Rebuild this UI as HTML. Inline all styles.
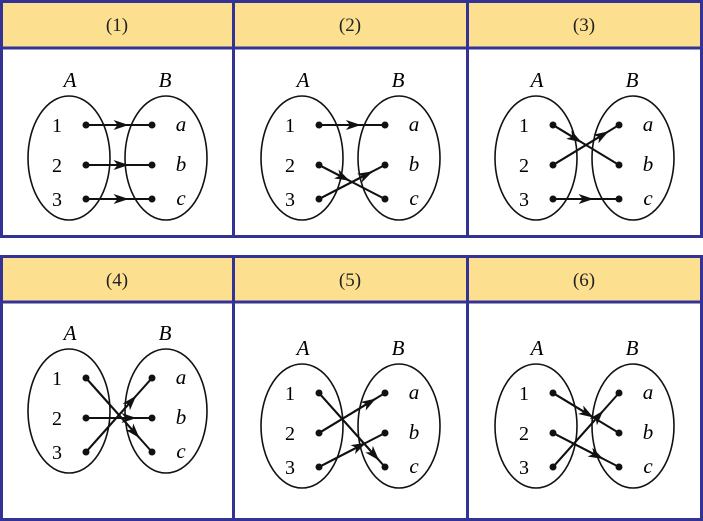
<!DOCTYPE html>
<html><head><meta charset="utf-8"><style>
body{margin:0;background:#fff;width:703px;height:521px;overflow:hidden}
svg{display:block}
</style></head><body>
<svg id="s" width="703" height="521" xmlns="http://www.w3.org/2000/svg" font-family="Liberation Serif, serif">
<defs><marker id="ar" markerWidth="15" markerHeight="10" refX="14" refY="5" orient="auto" markerUnits="userSpaceOnUse"><path d="M0,0 L15,5 L0,10 L4,5 Z" fill="#111"/></marker></defs>
<g fill="#fde08f">
<rect x="3" y="3" width="697" height="45"/>
<rect x="3" y="258" width="697" height="44"/>
</g>
<g fill="none" stroke="#333396" stroke-width="3">
<rect x="1.5" y="1.5" width="700" height="235"/>
<line x1="0" y1="48" x2="703" y2="48"/>
<line x1="233.5" y1="0" x2="233.5" y2="237"/>
<line x1="467.5" y1="0" x2="467.5" y2="237"/>
<rect x="1.5" y="256.5" width="700" height="263"/>
<line x1="0" y1="302" x2="703" y2="302"/>
<line x1="233.5" y1="256" x2="233.5" y2="521"/>
<line x1="467.5" y1="256" x2="467.5" y2="521"/>
</g>
<g font-size="19" text-anchor="middle" fill="#222">
<text x="117" y="31">(1)</text><text x="350" y="31">(2)</text><text x="584" y="31">(3)</text>
<text x="117" y="286">(4)</text><text x="350" y="286">(5)</text><text x="584" y="286">(6)</text>
</g>
<g id="g"></g>
</svg>
<script>
var g=document.getElementById('g'),h='';
var panels=[
 [0,0,[[0,0,.63],[1,1,.63],[2,2,.63]]],
 [233,0,[[0,0,.62],[1,2,.45],[2,1,.8]]],
 [467,0,[[0,1,.42],[1,0,.83],[2,2,.6]]],
 [0,253,[[0,2,.8],[1,1,.75],[2,0,.75]]],
 [233,268,[[0,2,.9],[1,0,.85],[2,1,.7]]],
 [467,268,[[0,1,.6],[1,2,.75],[2,0,.75]]]
];
var Y=[125,165,199],L=['a','b','c'];
panels.forEach(function(p){
 var dx=p[0],dy=p[1];
 h+='<ellipse cx="'+(69+dx)+'" cy="'+(158+dy)+'" rx="41" ry="62" fill="none" stroke="#111" stroke-width="1.6"/>';
 h+='<ellipse cx="'+(166+dx)+'" cy="'+(158+dy)+'" rx="41" ry="62" fill="none" stroke="#111" stroke-width="1.6"/>';
 h+='<text x="'+(70+dx)+'" y="'+(87+dy)+'" font-size="21" font-style="italic" text-anchor="middle">A</text>';
 h+='<text x="'+(165+dx)+'" y="'+(87+dy)+'" font-size="21" font-style="italic" text-anchor="middle">B</text>';
 for(var i=0;i<3;i++){
  h+='<text x="'+(57+dx)+'" y="'+(Y[i]+7+dy)+'" font-size="20" text-anchor="middle">'+(i+1)+'</text>';
  h+='<text x="'+(181+dx)+'" y="'+(Y[i]+6+dy)+'" font-size="21" font-style="italic" text-anchor="middle">'+L[i]+'</text>';
  h+='<circle cx="'+(86+dx)+'" cy="'+(Y[i]+dy)+'" r="3.5" fill="#111"/>';
  h+='<circle cx="'+(152+dx)+'" cy="'+(Y[i]+dy)+'" r="3.5" fill="#111"/>';
 }
 p[2].forEach(function(a){
  var x1=86+dx,y1=Y[a[0]]+dy,x2=152+dx,y2=Y[a[1]]+dy,f=a[2];
  h+='<line x1="'+x1+'" y1="'+y1+'" x2="'+x2+'" y2="'+y2+'" stroke="#111" stroke-width="2"/>';
  h+='<line x1="'+x1+'" y1="'+y1+'" x2="'+(x1+(x2-x1)*f)+'" y2="'+(y1+(y2-y1)*f)+'" stroke="#111" stroke-width="2" marker-end="url(#ar)"/>';
 });
});
g.innerHTML=h;
</script>
</body></html>
